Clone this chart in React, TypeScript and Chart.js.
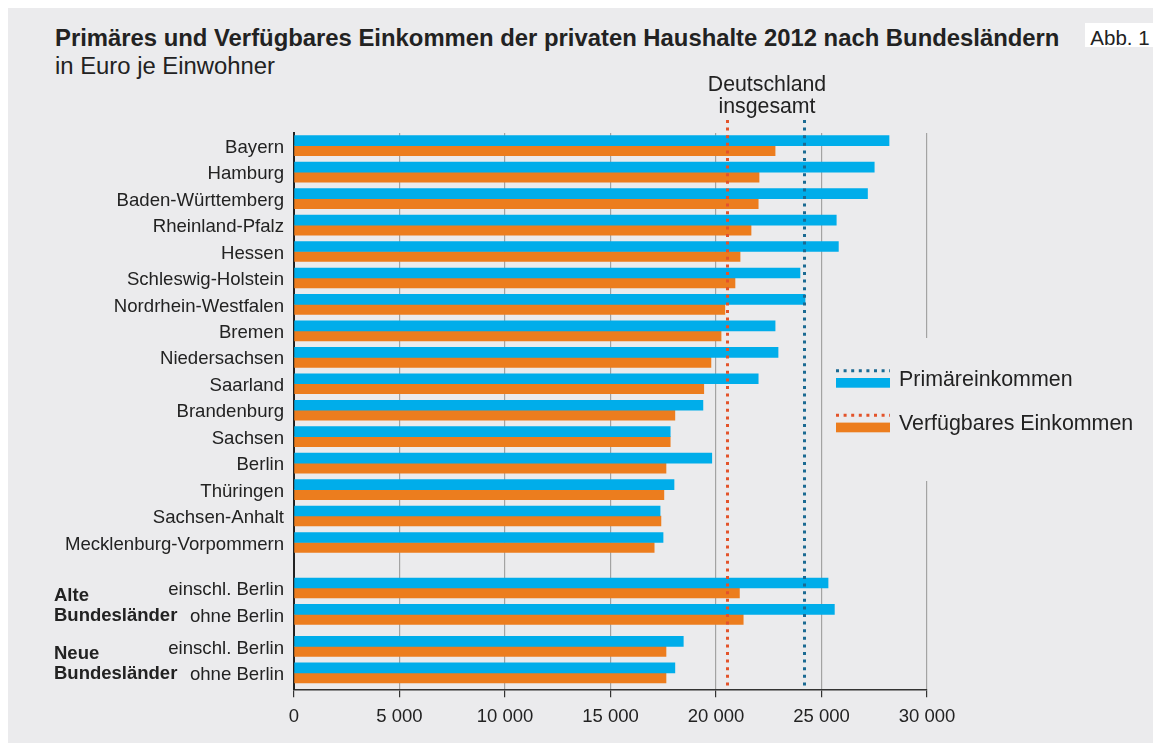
import React, { useEffect, useRef } from 'react';
import { Chart, registerables } from 'chart.js';

Chart.register(...registerables);

// ---------- data ----------
const categories = [
  'Bayern',
  'Hamburg',
  'Baden-Württemberg',
  'Rheinland-Pfalz',
  'Hessen',
  'Schleswig-Holstein',
  'Nordrhein-Westfalen',
  'Bremen',
  'Niedersachsen',
  'Saarland',
  'Brandenburg',
  'Sachsen',
  'Berlin',
  'Thüringen',
  'Sachsen-Anhalt',
  'Mecklenburg-Vorpommern',
  'einschl. Berlin',
  'ohne Berlin',
  'einschl. Berlin',
  'ohne Berlin',
];

const primaereinkommen = [
  28200, 27500, 27180, 25700, 25800, 23980, 24220, 22800, 22940, 22000,
  19380, 17830, 19800, 18010, 17350, 17490, 25310, 25610, 18450, 18050,
];

const verfuegbaresEinkommen = [
  22800, 22040, 22000, 21660, 21140, 20900, 20420, 20240, 19760, 19420,
  18050, 17830, 17630, 17530, 17390, 17070, 21110, 21290, 17630, 17630,
];

const deutschlandPrimaer = 24160;
const deutschlandVerfuegbar = 20530;

const seriesLabels = ['Primäreinkommen', 'Verfügbares Einkommen'];

const groupLabels = [
  { lines: ['Alte', 'Bundesländer'], rows: [16, 17] },
  { lines: ['Neue', 'Bundesländer'], rows: [18, 19] },
];

const xTickStep = 5000;
const xMin = 0;
const xMax = 30000;

// ---------- layout / style ----------
const BG = '#ebebed';
const BLUE = '#00adea';
const ORANGE = '#ec7d1e';
const BLUE_DOT = '#1b6a92';
const ORANGE_DOT = '#e3532a';
const TEXT = '#222222';
const FONT = "'Liberation Sans', Arial, Helvetica, sans-serif";

const W = 1153;
const H = 735;

// slot position of each row on the (linear) category axis
const GAP_AFTER_STATES = 0.72;
const GAP_BETWEEN_GROUPS = 0.21;
function rowPosition(i: number): number {
  if (i < 16) return i;
  if (i < 18) return i + GAP_AFTER_STATES;
  return i + GAP_AFTER_STATES + GAP_BETWEEN_GROUPS;
}
const positions = categories.map((_, i) => rowPosition(i));

function fmt(v: number): string {
  return String(v).replace(/\B(?=(\d{3})+(?!\d))/g, ' ');
}

const overlayPlugin = {
  id: 'overlay',
  beforeDatasetsDraw(chart: any) {
    const { ctx } = chart;
    const xs = chart.scales.x;
    const gx = xs.getPixelForValue(xMax);
    ctx.save();
    ctx.fillStyle = BG;
    ctx.fillRect(gx - 3, 330, 6, 143);
    ctx.restore();
  },
  afterDraw(chart: any) {
    const { ctx, chartArea } = chart;
    const xs = chart.scales.x;
    const ys = chart.scales.y;

    const dotted = (x0: number, y0: number, x1: number, y1: number, color: string) => {
      ctx.save();
      ctx.strokeStyle = color;
      ctx.lineWidth = 3;
      ctx.setLineDash([3, 4.6]);
      ctx.lineCap = 'butt';
      ctx.beginPath();
      ctx.moveTo(x0, y0);
      ctx.lineTo(x1, y1);
      ctx.stroke();
      ctx.restore();
    };

    // reference lines "Deutschland insgesamt"
    const xo = Math.round(xs.getPixelForValue(deutschlandVerfuegbar)) + 0.5;
    const xb = Math.round(xs.getPixelForValue(deutschlandPrimaer)) + 0.5;
    dotted(xo, chartArea.top - 13, xo, chartArea.bottom, ORANGE_DOT);
    dotted(xb, chartArea.top - 13, xb, chartArea.bottom, BLUE_DOT);

    ctx.save();
    ctx.fillStyle = TEXT;
    ctx.font = `21.3px ${FONT}`;
    ctx.textAlign = 'center';
    ctx.textBaseline = 'middle';
    const cx = (xo + xb) / 2 + 1;
    ctx.fillText('Deutschland', cx, chartArea.top - 47.5);
    ctx.fillText('insgesamt', cx, chartArea.top - 26);
    ctx.restore();

    // legend
    const lx = 828;
    const lw = 54;
    const items = [
      { dot: BLUE_DOT, bar: BLUE, y: 362.7, label: seriesLabels[0] },
      { dot: ORANGE_DOT, bar: ORANGE, y: 407.3, label: seriesLabels[1] },
    ];
    items.forEach((it) => {
      dotted(lx, it.y, lx + lw, it.y, it.dot);
      ctx.save();
      ctx.fillStyle = it.bar;
      ctx.fillRect(lx, it.y + 7.3, lw, 9.7);
      ctx.fillStyle = TEXT;
      ctx.font = `21.4px ${FONT}`;
      ctx.textAlign = 'left';
      ctx.textBaseline = 'middle';
      ctx.fillText(it.label, lx + lw + 9, it.y + 9.3);
      ctx.restore();
    });

    // group labels
    ctx.save();
    ctx.fillStyle = TEXT;
    ctx.font = `bold 18.5px ${FONT}`;
    ctx.textAlign = 'left';
    ctx.textBaseline = 'middle';
    groupLabels.forEach((g) => {
      const y2 = ys.getPixelForValue(positions[g.rows[1]]) + 1.5;
      ctx.fillText(g.lines[0], 46, y2 - 20);
      ctx.fillText(g.lines[1], 46, y2);
    });
    ctx.restore();
  },
};

export default function App() {
  const canvasRef = useRef<HTMLCanvasElement | null>(null);

  useEffect(() => {
    if (!canvasRef.current) return;
    const chart = new Chart(canvasRef.current, {
      type: 'bar',
      data: {
        datasets: [
          {
            label: seriesLabels[0],
            data: positions.map((p, i) => ({ x: primaereinkommen[i], y: p })),
            backgroundColor: BLUE,
            barThickness: 10,
          },
          {
            label: seriesLabels[1],
            data: positions.map((p, i) => ({ x: verfuegbaresEinkommen[i], y: p })),
            backgroundColor: ORANGE,
            barThickness: 10,
          },
        ] as any,
      },
      options: {
        indexAxis: 'y',
        responsive: false,
        animation: false,
        devicePixelRatio: 1,
        layout: { padding: { left: 0, right: W - 919, top: 125, bottom: H - 681.3 - 45 } },
        plugins: {
          legend: { display: false },
          tooltip: { enabled: false },
          title: { display: false },
        },
        scales: {
          x: {
            type: 'linear',
            position: 'bottom',
            min: xMin,
            max: xMax,
            offset: false,
            afterFit: (s: any) => {
              s.height = 45;
            },
            ticks: {
              stepSize: xTickStep,
              color: TEXT,
              font: { family: FONT, size: 18.5 },
              padding: 9,
              maxRotation: 0,
              callback: (v: any) => fmt(Number(v)),
            },
            grid: {
              color: '#a3a3a3',
              lineWidth: 1.2,
              tickColor: '#333333',
              tickLength: 8,
              drawTicks: true,
              offset: false,
            },
            border: { display: true, color: '#333333', width: 1.5 },
          },
          y: {
            type: 'linear',
            position: 'left',
            reverse: true,
            offset: false,
            min: -0.48,
            max: 20.55,
            afterFit: (s: any) => {
              s.width = 286;
            },
            afterBuildTicks: (s: any) => {
              s.ticks = positions.map((v) => ({ value: v }));
            },
            ticks: {
              autoSkip: false,
              color: TEXT,
              font: { family: FONT, size: 18.6 },
              padding: 10,
              labelOffset: 2,
              callback: (_v: any, i: number) => categories[i],
            },
            grid: { display: false, drawTicks: false, offset: false },
            border: { display: true, color: '#222222', width: 2 },
          },
        },
      } as any,
      plugins: [overlayPlugin],
    });
    return () => chart.destroy();
  }, []);

  return (
    <div
      style={{
        position: 'relative',
        width: W,
        height: H,
        background: BG,
        fontFamily: FONT,
        color: TEXT,
      }}
    >
      <div
        style={{
          position: 'absolute',
          left: 47,
          top: 17.8,
          fontSize: 23.85,
          lineHeight: '23.85px',
          fontWeight: 'bold',
          whiteSpace: 'nowrap',
        }}
      >
        Primäres und Verfügbares Einkommen der privaten Haushalte 2012 nach Bundesländern
      </div>
      <div
        style={{
          position: 'absolute',
          left: 47,
          top: 46.1,
          fontSize: 23.85,
          lineHeight: '23.85px',
          whiteSpace: 'nowrap',
        }}
      >
        in Euro je Einwohner
      </div>
      <div
        style={{
          position: 'absolute',
          left: 1077,
          top: 15.3,
          width: 70,
          height: 19.05,
          paddingTop: 4.35,
          background: '#ffffff',
          fontSize: 20.5,
          lineHeight: '20.5px',
          textAlign: 'center',
          whiteSpace: 'nowrap',
        }}
      >
        Abb. 1
      </div>
      <canvas
        ref={canvasRef}
        width={W}
        height={H}
        style={{ position: 'absolute', left: 0, top: 0, width: W, height: H }}
      />
    </div>
  );
}
